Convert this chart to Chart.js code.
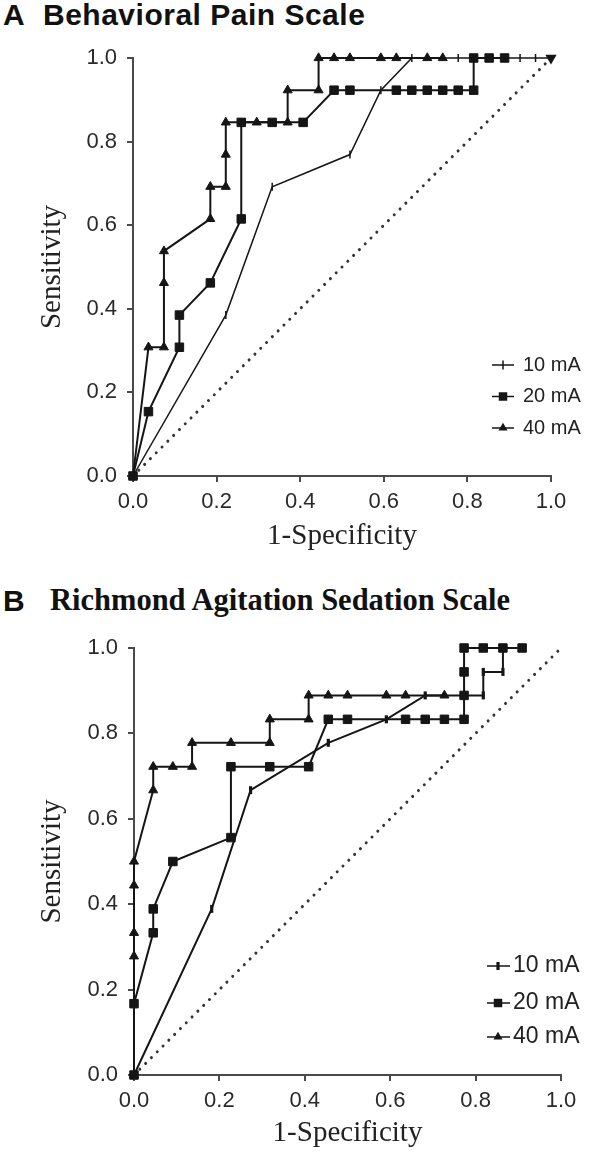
<!DOCTYPE html>
<html>
<head>
<meta charset="utf-8">
<script src="https://cdn.jsdelivr.net/npm/chart.js@4/dist/chart.umd.min.js"></script>
<style>
html,body{margin:0;padding:0;background:#fff;}
body{width:600px;height:1152px;position:relative;overflow:hidden;}
canvas{position:absolute;left:0;}
#cA{top:0;}
#cB{top:570px;}
.t{position:absolute;font-weight:bold;color:#111;white-space:nowrap;line-height:1;font-size:30px;}
.sans{font-family:'Liberation Sans',Arial,sans-serif;}
.serif{font-family:'Liberation Serif','Times New Roman',serif;}
</style>
</head>
<body>
<div class="t sans" style="left:3px;top:0px;">A</div>
<div class="t sans" style="left:43px;top:0px;letter-spacing:0.5px;">Behavioral Pain Scale</div>
<div class="t sans" style="left:3px;top:586px;">B</div>
<div class="t serif" style="left:50px;top:585px;font-size:30.5px;">Richmond Agitation Sedation Scale</div>
<canvas id="cA" width="600" height="570"></canvas>
<canvas id="cB" width="600" height="582"></canvas>
<script>
// ---------- data ----------
const seriesLabels = ['10 mA', '20 mA', '40 mA'];
const tickLabels = ['0.0', '0.2', '0.4', '0.6', '0.8', '1.0'];
const diagX = [0, 1];
const diagY = [0, 1];

// Panel A: Behavioral Pain Scale
const specA10 = [0, 0.222, 0.333, 0.519, 0.593, 0.667, 0.778, 0.926, 0.963, 1.0];
const sensA10 = [0, 0.385, 0.692, 0.769, 0.923, 1, 1, 1, 1, 1];
const specA20 = [0, 0.037, 0.111, 0.111, 0.185, 0.259, 0.259, 0.333, 0.407, 0.481, 0.519, 0.630, 0.667, 0.704, 0.741, 0.778, 0.815, 0.815, 0.852, 0.889];
const sensA20 = [0, 0.154, 0.308, 0.385, 0.462, 0.615, 0.846, 0.846, 0.846, 0.923, 0.923, 0.923, 0.923, 0.923, 0.923, 0.923, 0.923, 1, 1, 1];
const specA40 = [0, 0.037, 0.074, 0.074, 0.074, 0.185, 0.185, 0.222, 0.222, 0.222, 0.296, 0.370, 0.370, 0.444, 0.444, 0.481, 0.519, 0.593, 0.630, 0.704, 0.741];
const sensA40 = [0, 0.308, 0.308, 0.462, 0.538, 0.615, 0.692, 0.692, 0.769, 0.846, 0.846, 0.846, 0.923, 0.923, 1, 1, 1, 1, 1, 1, 1];

// Panel B: Richmond Agitation Sedation Scale
const specB10 = [0, 0.182, 0.273, 0.455, 0.591, 0.682, 0.818, 0.818, 0.864, 0.864];
const sensB10 = [0, 0.389, 0.667, 0.778, 0.833, 0.889, 0.889, 0.944, 0.944, 1.0];
const specB20 = [0, 0, 0.045, 0.045, 0.091, 0.227, 0.227, 0.318, 0.409, 0.455, 0.5, 0.636, 0.682, 0.727, 0.773, 0.773, 0.773, 0.773, 0.818, 0.864, 0.909];
const sensB20 = [0, 0.167, 0.333, 0.389, 0.5, 0.556, 0.722, 0.722, 0.722, 0.833, 0.833, 0.833, 0.833, 0.833, 0.833, 0.889, 0.944, 1, 1, 1, 1];
const specB40 = [0, 0, 0, 0, 0, 0.045, 0.045, 0.091, 0.136, 0.136, 0.227, 0.318, 0.318, 0.409, 0.409, 0.455, 0.5, 0.591, 0.636, 0.727];
const sensB40 = [0, 0.278, 0.333, 0.444, 0.5, 0.667, 0.722, 0.722, 0.722, 0.778, 0.778, 0.778, 0.833, 0.833, 0.889, 0.889, 0.889, 0.889, 0.889, 0.889];

// ---------- helpers ----------
const pts = (xs, ys) => xs.map((x, i) => ({x: x, y: ys[i]}));
const INK = '#151515';
const AXIS = '#4a4a4a';

function drawMarker(ctx, style, r, rot, bw, x, y) {
  const rad = rot * Math.PI / 180;
  ctx.save();
  ctx.lineWidth = bw;
  ctx.beginPath();
  if (style === 'rect') {
    const s = Math.SQRT1_2 * r;
    ctx.rect(x - s, y - s, 2 * s, 2 * s);
    ctx.fill();
  } else if (style === 'triangle') {
    let a = rad;
    ctx.moveTo(x + Math.sin(a) * r, y - Math.cos(a) * r);
    a += 2 * Math.PI / 3;
    ctx.lineTo(x + Math.sin(a) * r, y - Math.cos(a) * r);
    a += 2 * Math.PI / 3;
    ctx.lineTo(x + Math.sin(a) * r, y - Math.cos(a) * r);
    ctx.closePath();
    ctx.fill();
  } else if (style === 'line') {
    const dx = Math.cos(rad) * r, dy = Math.sin(rad) * r;
    ctx.moveTo(x - dx, y - dy);
    ctx.lineTo(x + dx, y + dy);
    ctx.stroke();
  }
  ctx.restore();
}

const inlineLegend = {
  id: 'inlineLegend',
  afterDatasetsDraw(chart, args, opts) {
    const ctx = chart.ctx;
    ctx.save();
    ctx.font = opts.font;
    ctx.textBaseline = 'middle';
    ctx.textAlign = 'left';
    opts.rows.forEach((y, k) => {
      const ds = chart.data.datasets[k];
      const m = opts.markers[k];
      ctx.strokeStyle = INK;
      ctx.fillStyle = INK;
      ctx.lineWidth = 1.5;
      ctx.beginPath();
      ctx.moveTo(opts.x0, y);
      ctx.lineTo(opts.x1, y);
      ctx.stroke();
      drawMarker(ctx, m.style, m.r, m.rot, m.bw, opts.mx, y);
      ctx.fillStyle = '#222';
      ctx.fillText(ds.label, opts.tx, y);
    });
    ctx.restore();
  }
};

function lineDs(label, data, extra) {
  return Object.assign({
    label: label,
    data: data,
    showLine: true,
    borderColor: INK,
    backgroundColor: INK,
    pointBackgroundColor: INK,
    pointBorderColor: INK,
    borderWidth: 2,
    pointBorderWidth: 1,
    pointHoverRadius: 0,
    clip: false,
    tension: 0
  }, extra);
}

function diagDs() {
  return {
    label: 'ref',
    data: pts(diagX, diagY),
    showLine: true,
    borderColor: '#333',
    borderWidth: 3,
    borderDash: [0.01, 8.2],
    borderCapStyle: 'round',
    pointRadius: 0,
    clip: false
  };
}

function scaleOpts(isX, titleText, titlePad, fit) {
  return {
    type: 'linear',
    min: 0,
    max: 1,
    afterBuildTicks: (s) => { s.ticks = tickLabels.map((t) => ({value: parseFloat(t)})); },
    afterFit: fit,
    ticks: {
      callback: (v, i) => tickLabels[i],
      font: {family: "'Liberation Sans', Arial, sans-serif", size: 22},
      color: '#2a2a2a',
      padding: isX ? 7 : 10,
      maxRotation: 0,
      autoSkip: false
    },
    grid: {
      drawOnChartArea: false,
      drawTicks: true,
      tickLength: 6,
      color: AXIS,
      lineWidth: 2
    },
    border: {display: true, color: AXIS, width: 2},
    title: {
      display: true,
      text: titleText,
      font: {family: "'Liberation Serif', 'Times New Roman', serif", size: 29},
      color: '#222',
      padding: titlePad
    }
  };
}

function makeChart(id, datasets, geo, legend) {
  return new Chart(document.getElementById(id), {
    type: 'scatter',
    data: {datasets: datasets},
    options: {
      responsive: false,
      animation: false,
      devicePixelRatio: 1,
      layout: {padding: {left: 0, top: geo.top, right: geo.right, bottom: 0}},
      plugins: {
        legend: {display: false},
        tooltip: {enabled: false},
        inlineLegend: legend
      },
      scales: {
        x: scaleOpts(true, '1-Specificity', {top: 0, bottom: geo.xTitlePad}, (s) => { s.height = geo.xh; }),
        y: scaleOpts(false, 'Sensitivity', {top: geo.yTitlePad, bottom: 0}, (s) => { s.width = geo.yw; })
      }
    },
    plugins: [inlineLegend]
  });
}

// ---------- panel A ----------
const a10 = pts(specA10, sensA10);
makeChart('cA', [
  lineDs(seriesLabels[0], a10, {
    borderWidth: 1.5,
    pointStyle: a10.map((p, i) => i === a10.length - 1 ? 'triangle' : 'line'),
    pointRotation: a10.map((p, i) => i === a10.length - 1 ? 180 : 90),
    pointRadius: a10.map((p, i) => i === a10.length - 1 ? 5 : 4),
    pointBorderWidth: 1.5
  }),
  lineDs(seriesLabels[1], pts(specA20, sensA20), {pointStyle: 'rect', pointRadius: 6}),
  lineDs(seriesLabels[2], pts(specA40, sensA40), {pointStyle: 'triangle', pointRadius: 5.2}),
  diagDs()
], {top: 58, right: 49, xh: 94, yw: 133, xTitlePad: 16, yTitlePad: 35}, {
  rows: [365, 396.5, 428],
  x0: 492, x1: 514, mx: 503, tx: 523,
  font: "20px 'Liberation Sans', Arial, sans-serif",
  markers: [
    {style: 'line', r: 4.5, rot: 90, bw: 1.5},
    {style: 'rect', r: 6, rot: 0, bw: 1},
    {style: 'triangle', r: 5.2, rot: 0, bw: 1}
  ]
});

// ---------- panel B ----------
makeChart('cB', [
  lineDs(seriesLabels[0], pts(specB10, sensB10), {pointStyle: 'line', pointRotation: 90, pointRadius: 4, pointBorderWidth: 3.2}),
  lineDs(seriesLabels[1], pts(specB20, sensB20), {pointStyle: 'rect', pointRadius: 6}),
  lineDs(seriesLabels[2], pts(specB40, sensB40), {pointStyle: 'triangle', pointRadius: 5.2}),
  diagDs()
], {top: 78, right: 39, xh: 77, yw: 134, xTitlePad: 1, yTitlePad: 35}, {
  rows: [396, 433, 467],
  x0: 487, x1: 510, mx: 498, tx: 513,
  font: "23px 'Liberation Sans', Arial, sans-serif",
  markers: [
    {style: 'line', r: 4, rot: 90, bw: 3.2},
    {style: 'rect', r: 6, rot: 0, bw: 1},
    {style: 'triangle', r: 5.2, rot: 0, bw: 1}
  ]
});
</script>
</body>
</html>
